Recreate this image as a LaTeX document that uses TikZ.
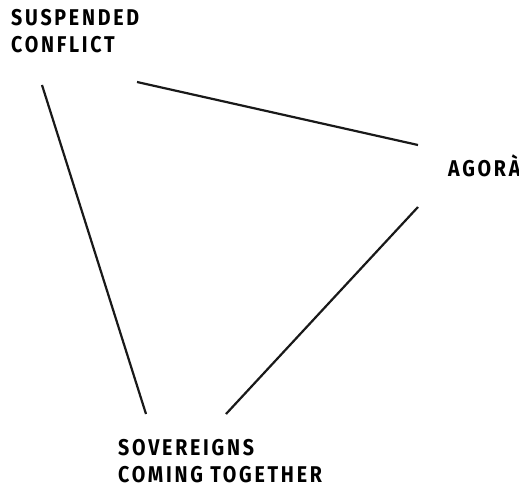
\documentclass[tikz,border=0pt]{standalone}
\usepackage{fontspec}
\setmainfont{Fira Sans}[FakeStretch=0.86,LetterSpace=12,UprightFont=* Bold]
\begin{document}
\begin{tikzpicture}[x=1bp,y=-1bp,
  lbl/.style={inner sep=0pt,anchor=base west,align=left,font=\fontsize{22.8bp}{27bp}\selectfont},
  edge/.style={line width=2.2bp,color=black!90}]
\useasboundingbox (0,0) rectangle (519,486);
\node[lbl] (conflict) at (11,53) {SUSPENDED\\CONFLICT};
\node[lbl] (agora) at (448,177) {AGORÀ};
\node[lbl] (sovereigns) at (118,482) {SOVEREIGNS\\COMING TOGETHER};
\coordinate (c1) at (137,82);
\coordinate (a1) at (418,145);
\coordinate (c2) at (42,85);
\coordinate (s1) at (146,414);
\coordinate (a2) at (418,207);
\coordinate (s2) at (226,414);
\draw[edge] (c1) -- (a1);
\draw[edge] (c2) -- (s1);
\draw[edge] (a2) -- (s2);
\end{tikzpicture}
\end{document}
